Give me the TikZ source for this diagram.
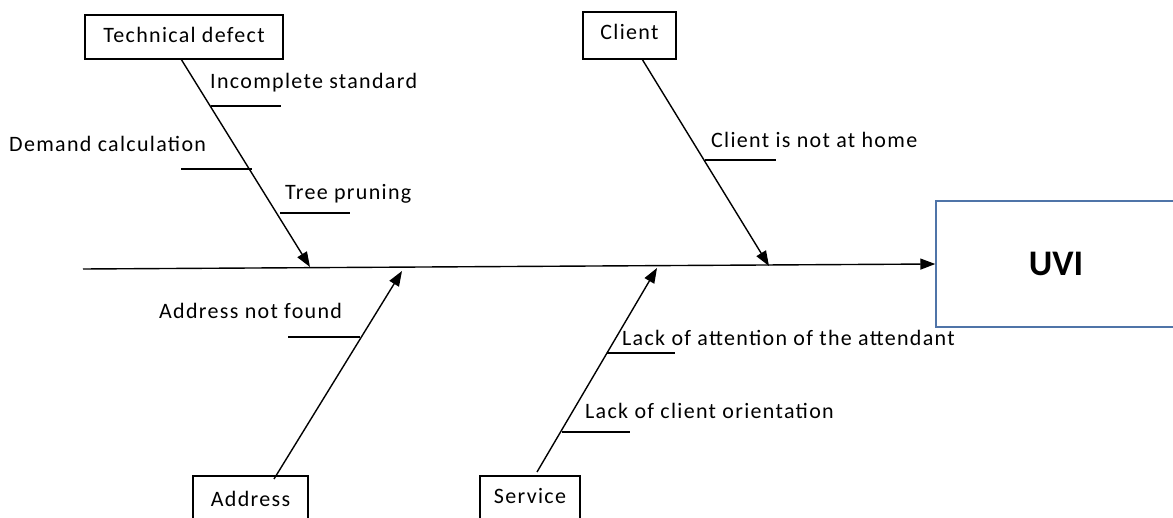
\documentclass[tikz,border=0pt]{standalone}
\usepackage{fontspec}
\setmainfont{Carlito}
\newfontfamily\labfont[LetterSpace=6]{Carlito}
\usetikzlibrary{arrows.meta}
\definecolor{uviblue}{HTML}{4F74A8}
\begin{document}
\begin{tikzpicture}[x=1pt,y=-1pt,
  every node/.style={font=\labfont\fontsize{22}{26}\selectfont},
  catbox/.style={draw, line width=1.4pt, inner sep=0pt, fill=white, anchor=base},
  bone/.style={line width=1.4pt},
  arr/.style={line width=1.4pt, -{Triangle[length=15pt,width=11pt]}},
  sub/.style={line width=1.2pt},
  lbl/.style={anchor=base west, inner sep=0pt}]
\useasboundingbox (0,0) rectangle (1173,518);
% boxes
\node[catbox, minimum width=198pt, text height=28pt, text depth=16pt] (tech) at (184,43) {Technical defect};
\node[catbox, minimum width=93pt, text height=28pt, text depth=19pt] (client) at (629.5,40) {Client};
\node[catbox, minimum width=115pt, text height=30pt, text depth=25pt] (addr) at (250.5,506) {Address};
\node[catbox, minimum width=100pt, text height=27pt, text depth=25pt] (serv) at (530,503) {Service};
\node[draw=uviblue, line width=1.4pt, fill=white, minimum width=240pt, minimum height=126pt, inner sep=0pt,
      font=\fontsize{36}{40}\selectfont\bfseries] (uvi) at (1056,264) {UVI};
% spine
\coordinate (tail) at (83,269);
\draw[arr] (tail) -- (uvi.west);
% bone tips
\coordinate (ttech) at (310,267);
\coordinate (tclient) at (769,266);
\coordinate (taddr) at (402,271);
\coordinate (tserv) at (657,268);
\draw[arr] (181,59) coordinate (stech) -- (ttech);
\draw[arr] (642,59) coordinate (sclient) -- (tclient);
\draw[arr] (274,479) coordinate (saddr) -- (taddr);
\draw[arr] (537,472) coordinate (sserv) -- (tserv);
% sub-causes
\node[lbl] (l1) at (210,89) {Incomplete standard};
\coordinate (a1) at (211,106); \coordinate (b1) at (281,106);
\draw[sub] (a1) -- (b1);
\node[lbl] (l2) at (9,152) {Demand calculation};
\coordinate (a2) at (181,169); \coordinate (b2) at (252,169);
\draw[sub] (a2) -- (b2);
\node[lbl] (l3) at (285,200) {Tree pruning};
\coordinate (a3) at (280,213); \coordinate (b3) at (350,213);
\draw[sub] (a3) -- (b3);
\node[lbl] (l4) at (711,148) {Client is not at home};
\coordinate (a4) at (705,160); \coordinate (b4) at (776,160);
\draw[sub] (a4) -- (b4);
\node[lbl] (l5) at (159,319) {Address not found};
\coordinate (a5) at (288,337); \coordinate (b5) at (360,337);
\draw[sub] (a5) -- (b5);
\node[lbl] (l6) at (622,346) {Lack of attention of the attendant};
\coordinate (a6) at (607,353); \coordinate (b6) at (675,353);
\draw[sub] (a6) -- (b6);
\node[lbl] (l7) at (585,419) {Lack of client orientation};
\coordinate (a7) at (562,432); \coordinate (b7) at (630,432);
\draw[sub] (a7) -- (b7);
\end{tikzpicture}
\end{document}
